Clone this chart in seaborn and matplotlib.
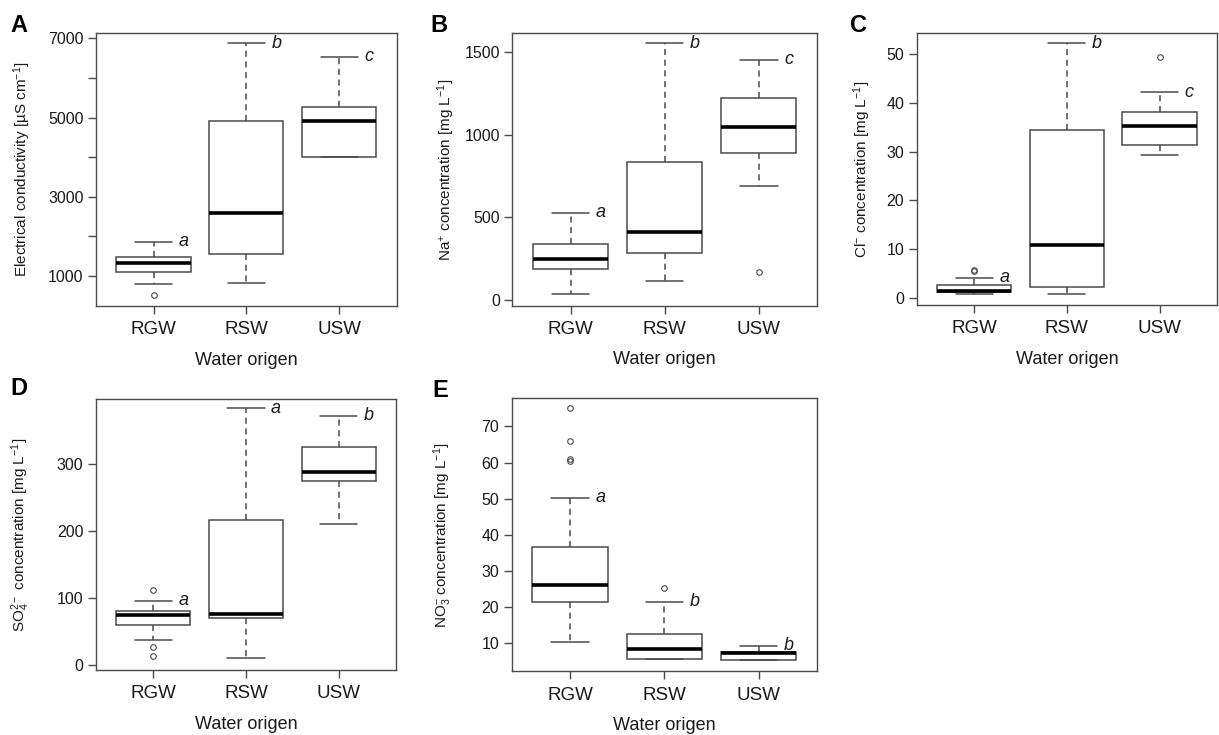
import numpy as np
import pandas as pd
import seaborn as sns
import matplotlib.pyplot as plt

# categories
groups = ['RGW', 'RSW', 'USW']

# A - electrical conductivity [uS/cm]
ec_rgw = [510, 788, 1108, 1108, 1335, 1487, 1487, 1487, 1865]
ec_rsw = [830, 1554, 2581, 4921, 6874]
ec_usw = [4012, 4012, 4912, 5274, 6537]

# B - Na+ [mg/L]
na_rgw = [32, 184, 249, 338, 528]
na_rsw = [115, 283, 408, 837, 1555]
na_usw = [170, 687, 890, 890, 1045, 1225, 1225, 1225, 1454]

# C - Cl- [mg/L]
cl_rgw = [0.68, 1.1, 1.1, 1.1, 1.1, 1.1, 1.44, 2.6, 2.6, 2.6, 4.1, 5.4, 5.7]
cl_rsw = [0.68, 2.1, 10.8, 34.4, 52.3]
cl_usw = [29.3, 31.4, 31.4, 31.4, 35.3, 38.2, 38.2, 42.2, 49.5]

# D - SO4 2- [mg/L]
so4_rgw = [13.4, 26.9, 37.8, 59.7, 59.7, 59.7, 74.6, 80.6, 80.6, 80.6, 80.6, 96.5, 113]
so4_rsw = [11.4, 70.1, 76.6, 217.4, 383.6]
so4_usw = [210.4, 275.6, 288.6, 326.4, 372.6]

# E - NO3- [mg/L]
no3_rgw = [10.2, 21.3, 21.3, 21.3, 21.3, 21.3, 21.3, 21.3, 21.3, 21.3, 26.2,
           36.5, 36.5, 36.5, 36.5, 36.5, 50.2, 60.3, 61.0, 66.0, 75.0]
no3_rsw = [5.5, 5.5, 5.5, 5.5, 8.4, 12.4, 12.4, 21.4, 25.2]
no3_usw = [5.3, 5.3, 7.2, 7.5, 9.3]

# significance letters
ec_letters = ['a', 'b', 'c']
na_letters = ['a', 'b', 'c']
cl_letters = ['a', 'b', 'c']
so4_letters = ['a', 'a', 'b']
no3_letters = ['a', 'b', 'b']

LINE = '#4a4a4a'
TEXT = '#1a1a1a'

sns.set_style('white')
plt.rcParams['font.family'] = ['Liberation Sans', 'DejaVu Sans']
plt.rcParams['mathtext.fontset'] = 'custom'
plt.rcParams['mathtext.rm'] = 'Liberation Sans'
plt.rcParams['mathtext.it'] = 'Liberation Sans:italic'
plt.rcParams['axes.edgecolor'] = LINE
plt.rcParams['axes.linewidth'] = 1.0


def upper_whisker(vals):
    q1, q3 = np.percentile(vals, [25, 75])
    lim = q3 + 1.5 * (q3 - q1)
    return max(v for v in vals if v <= lim)


def draw_panel(ax, samples, letters, ylabel, ylim, yticks, yticklabels, label_x):
    df = pd.DataFrame({
        'origin': np.repeat(groups, [len(s) for s in samples]),
        'value': np.concatenate(samples),
    })
    sns.boxplot(data=df, x='origin', y='value', order=groups, ax=ax,
                width=0.8, whis=1.5, color='white', linecolor=LINE, linewidth=1.1,
                medianprops={'color': 'black', 'linewidth': 2.6},
                whiskerprops={'linestyle': (0, (4, 3))},
                flierprops={'marker': 'o', 'markersize': 4, 'markerfacecolor': 'none',
                            'markeredgecolor': LINE, 'markeredgewidth': 0.8})
    for i, (s, let) in enumerate(zip(samples, letters)):
        ax.text(i + 0.27, upper_whisker(s), let, style='italic', fontsize=13,
                color=TEXT, ha='left', va='center')
    ax.set_xlim(-0.62, 2.62)
    ax.set_ylim(*ylim)
    ax.set_yticks(yticks)
    ax.set_yticklabels(yticklabels)
    ax.tick_params(axis='y', length=6, width=1, color=LINE, labelsize=11.5,
                   labelcolor=TEXT, pad=3, left=True)
    ax.tick_params(axis='x', length=6, width=1, color=LINE, labelsize=13.5,
                   labelcolor=TEXT, pad=5, bottom=True)
    ax.set_xlabel('Water origen', fontsize=13, color=TEXT)
    ax.set_ylabel(ylabel, fontsize=11, color=TEXT)
    ax.xaxis.set_label_coords(0.5, -0.168)
    ax.yaxis.set_label_coords(label_x, 0.5)
    for sp in ax.spines.values():
        sp.set_visible(True)
        sp.set_color(LINE)


W, H = 1219, 735
fig = plt.figure(figsize=(W / 100, H / 100), dpi=100)


def add_axes(left, right, top, bottom):
    return fig.add_axes([left / W, 1 - bottom / H, (right - left) / W, (bottom - top) / H])


ax_a = add_axes(96, 396.7, 33.3, 306)
ax_b = add_axes(512.3, 817, 33.3, 305.7)
ax_c = add_axes(916.7, 1217, 33.3, 305)
ax_d = add_axes(96, 396, 399, 670)
ax_e = add_axes(511.7, 817, 398.3, 671.3)

draw_panel(ax_a, [ec_rgw, ec_rsw, ec_usw], ec_letters,
           'Electrical conductivity [µS cm$^{-1}$]', (241, 7126),
           [1000, 2000, 3000, 4000, 5000, 6000, 7000],
           ['1000', '', '3000', '', '5000', '', '7000'], -0.21)
draw_panel(ax_b, [na_rgw, na_rsw, na_usw], na_letters,
           'Na$^{+}$ concentration [mg L$^{-1}$]', (-36, 1615),
           [0, 500, 1000, 1500], ['0', '500', '1000', '1500'], -0.182)
draw_panel(ax_c, [cl_rgw, cl_rsw, cl_usw], cl_letters,
           'Cl$^{-}$ concentration [mg L$^{-1}$]', (-1.5, 54.3),
           [0, 10, 20, 30, 40, 50], ['0', '10', '20', '30', '40', '50'], -0.145)
draw_panel(ax_d, [so4_rgw, so4_rsw, so4_usw], so4_letters,
           'SO$_4^{2-}$ concentration [mg L$^{-1}$]', (-7, 397.5),
           [0, 100, 200, 300], ['0', '100', '200', '300'], -0.213)
draw_panel(ax_e, [no3_rgw, no3_rsw, no3_usw], no3_letters,
           'NO$_3^{-}$ concentration [mg L$^{-1}$]', (2.2, 77.8),
           [10, 20, 30, 40, 50, 60, 70], ['10', '20', '30', '40', '50', '60', '70'], -0.19)

# panel letters
for lab, x, y in [('A', 10, 31.7), ('B', 430.7, 31.7), ('C', 850, 31.7),
                  ('D', 10, 395), ('E', 432.7, 396.7)]:
    fig.text(x / W, 1 - y / H, lab, fontsize=17, fontweight='bold', color='black',
             ha='left', va='baseline')

fig.savefig('out.png', dpi=100)
